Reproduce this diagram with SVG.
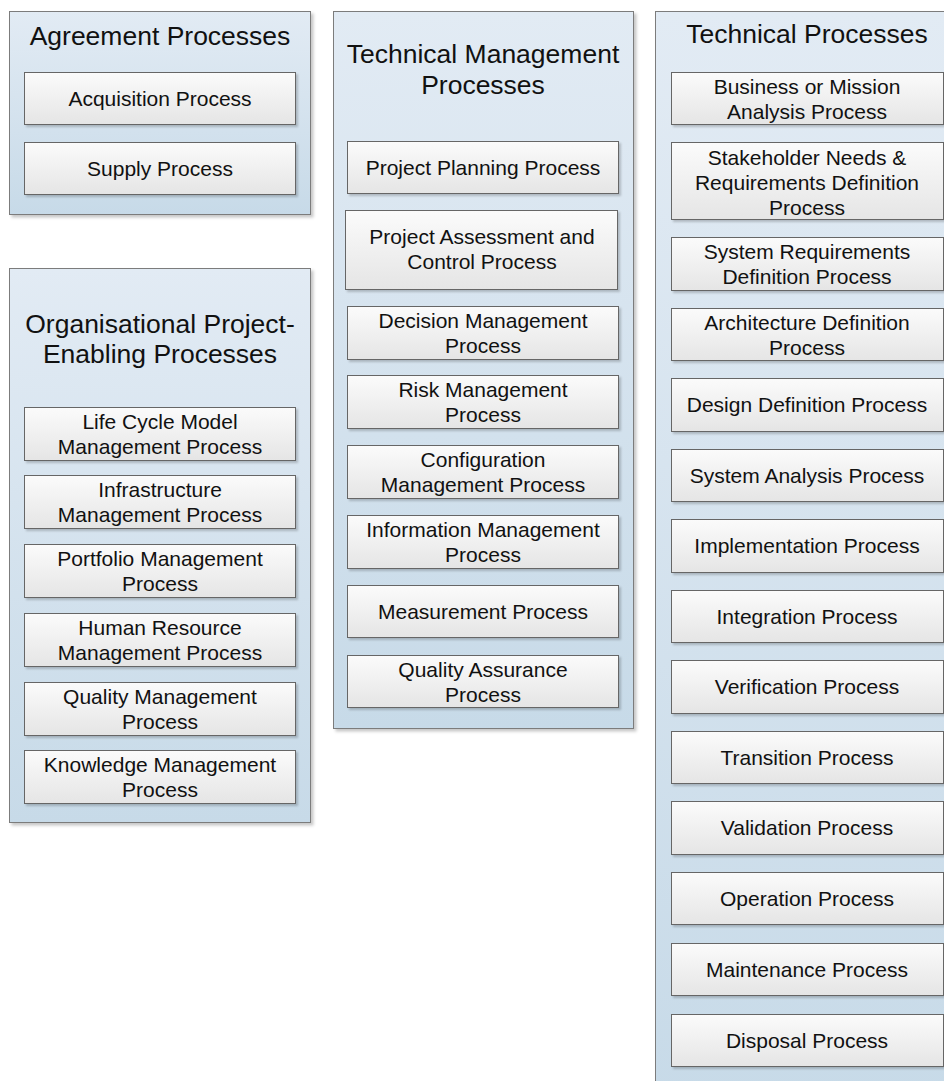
<svg xmlns="http://www.w3.org/2000/svg" width="944" height="1081" viewBox="0 0 944 1081">
<defs>
<linearGradient id="gc" x1="0" y1="0" x2="0" y2="1">
<stop offset="0" stop-color="#e2ebf4"/>
<stop offset="1" stop-color="#c7dae8"/>
</linearGradient>
<linearGradient id="gb" x1="0" y1="0" x2="0" y2="1">
<stop offset="0" stop-color="#fbfbfb"/>
<stop offset="1" stop-color="#e5e5e5"/>
</linearGradient>
<filter id="sh" x="-5%" y="-5%" width="115%" height="115%">
<feDropShadow dx="2.5" dy="2.5" stdDeviation="1.5" flood-color="#000" flood-opacity="0.22"/>
</filter>
<filter id="shb" x="-5%" y="-10%" width="115%" height="130%">
<feDropShadow dx="2" dy="2" stdDeviation="1.2" flood-color="#000" flood-opacity="0.2"/>
</filter>
</defs>
<style>
.c{fill:url(#gc);stroke:#7b7b7b;stroke-width:1;filter:url(#sh)}
.b{fill:url(#gb);stroke:#666;stroke-width:1;filter:url(#shb)}
.t{font-family:"Liberation Sans",Arial,sans-serif;font-size:26.5px;fill:#111;text-anchor:middle}
.l{font-family:"Liberation Sans",Arial,sans-serif;font-size:21px;fill:#111;text-anchor:middle}
</style>

<g id="agreement">
<rect class="c" x="9.5" y="11.5" width="301" height="203"/>
<text class="t" x="160" y="45">Agreement Processes</text>
<g id="acquisition"><rect class="b" x="24.5" y="72.5" width="271" height="52"/><text class="l" x="160" y="106">Acquisition Process</text></g>
<g id="supply"><rect class="b" x="24.5" y="142.5" width="271" height="52"/><text class="l" x="160" y="176">Supply Process</text></g>
</g>

<g id="organisational">
<rect class="c" x="9.5" y="268.5" width="301" height="554"/>
<text class="t" x="160" y="333">Organisational Project-</text>
<text class="t" x="160" y="363">Enabling Processes</text>
<g id="lifecycle"><rect class="b" x="24.5" y="407.5" width="271" height="53"/><text class="l" x="160" y="428.5">Life Cycle Model</text><text class="l" x="160" y="453.5">Management Process</text></g>
<g id="infrastructure"><rect class="b" x="24.5" y="475.5" width="271" height="53"/><text class="l" x="160" y="496.5">Infrastructure</text><text class="l" x="160" y="521.5">Management Process</text></g>
<g id="portfolio"><rect class="b" x="24.5" y="544.5" width="271" height="53"/><text class="l" x="160" y="565.5">Portfolio Management</text><text class="l" x="160" y="590.5">Process</text></g>
<g id="humanresource"><rect class="b" x="24.5" y="613.5" width="271" height="53"/><text class="l" x="160" y="634.5">Human Resource</text><text class="l" x="160" y="659.5">Management Process</text></g>
<g id="qualitymgmt"><rect class="b" x="24.5" y="682.5" width="271" height="53"/><text class="l" x="160" y="703.5">Quality Management</text><text class="l" x="160" y="728.5">Process</text></g>
<g id="knowledge"><rect class="b" x="24.5" y="750.5" width="271" height="53"/><text class="l" x="160" y="771.5">Knowledge Management</text><text class="l" x="160" y="796.5">Process</text></g>
</g>

<g id="techmgmt">
<rect class="c" x="333.5" y="11.5" width="300" height="717"/>
<text class="t" x="483" y="63">Technical Management</text>
<text class="t" x="483" y="94">Processes</text>
<g id="planning"><rect class="b" x="347.5" y="141.5" width="271" height="52"/><text class="l" x="483" y="175">Project Planning Process</text></g>
<g id="assessment"><rect class="b" x="345.5" y="210.5" width="272" height="79"/><text class="l" x="482" y="244">Project Assessment and</text><text class="l" x="482" y="269">Control Process</text></g>
<g id="decision"><rect class="b" x="347.5" y="306.5" width="271" height="53"/><text class="l" x="483" y="327.5">Decision Management</text><text class="l" x="483" y="352.5">Process</text></g>
<g id="risk"><rect class="b" x="347.5" y="375.5" width="271" height="53"/><text class="l" x="483" y="396.5">Risk Management</text><text class="l" x="483" y="421.5">Process</text></g>
<g id="configuration"><rect class="b" x="347.5" y="445.5" width="271" height="53"/><text class="l" x="483" y="466.5">Configuration</text><text class="l" x="483" y="491.5">Management Process</text></g>
<g id="information"><rect class="b" x="347.5" y="515.5" width="271" height="53"/><text class="l" x="483" y="536.5">Information Management</text><text class="l" x="483" y="561.5">Process</text></g>
<g id="measurement"><rect class="b" x="347.5" y="585.5" width="271" height="52"/><text class="l" x="483" y="619">Measurement Process</text></g>
<g id="qualityassurance"><rect class="b" x="347.5" y="655.5" width="271" height="52"/><text class="l" x="483" y="676.5">Quality Assurance</text><text class="l" x="483" y="701.5">Process</text></g>
</g>

<g id="technical">
<rect class="c" x="655.5" y="11.5" width="303" height="1100"/>
<text class="t" x="807" y="43">Technical Processes</text>
<g id="business"><rect class="b" x="671.5" y="72.5" width="272" height="52"/><text class="l" x="807" y="93.5">Business or Mission</text><text class="l" x="807" y="118.5">Analysis Process</text></g>
<g id="stakeholder"><rect class="b" x="671.5" y="142.5" width="272" height="77"/><text class="l" x="807" y="164.5">Stakeholder Needs &amp;</text><text class="l" x="807" y="189.5">Requirements Definition</text><text class="l" x="807" y="214.5">Process</text></g>
<g id="sysreq"><rect class="b" x="671.5" y="237.5" width="272" height="53"/><text class="l" x="807" y="258.5">System Requirements</text><text class="l" x="807" y="283.5">Definition Process</text></g>
<g id="architecture"><rect class="b" x="671.5" y="308.5" width="272" height="52"/><text class="l" x="807" y="329.5">Architecture Definition</text><text class="l" x="807" y="354.5">Process</text></g>
<g id="design"><rect class="b" x="671.5" y="378.5" width="272" height="53"/><text class="l" x="807" y="412">Design Definition Process</text></g>
<g id="sysanalysis"><rect class="b" x="671.5" y="449.5" width="272" height="52"/><text class="l" x="807" y="483">System Analysis Process</text></g>
<g id="implementation"><rect class="b" x="671.5" y="519.5" width="272" height="53"/><text class="l" x="807" y="553">Implementation Process</text></g>
<g id="integration"><rect class="b" x="671.5" y="590.5" width="272" height="52"/><text class="l" x="807" y="624">Integration Process</text></g>
<g id="verification"><rect class="b" x="671.5" y="660.5" width="272" height="53"/><text class="l" x="807" y="694">Verification Process</text></g>
<g id="transition"><rect class="b" x="671.5" y="731.5" width="272" height="52"/><text class="l" x="807" y="765">Transition Process</text></g>
<g id="validation"><rect class="b" x="671.5" y="801.5" width="272" height="53"/><text class="l" x="807" y="835">Validation Process</text></g>
<g id="operation"><rect class="b" x="671.5" y="872.5" width="272" height="52"/><text class="l" x="807" y="906">Operation Process</text></g>
<g id="maintenance"><rect class="b" x="671.5" y="943.5" width="272" height="52"/><text class="l" x="807" y="977">Maintenance Process</text></g>
<g id="disposal"><rect class="b" x="671.5" y="1014.5" width="272" height="52"/><text class="l" x="807" y="1048">Disposal Process</text></g>
</g>

<g id="connectors"/>
</svg>
